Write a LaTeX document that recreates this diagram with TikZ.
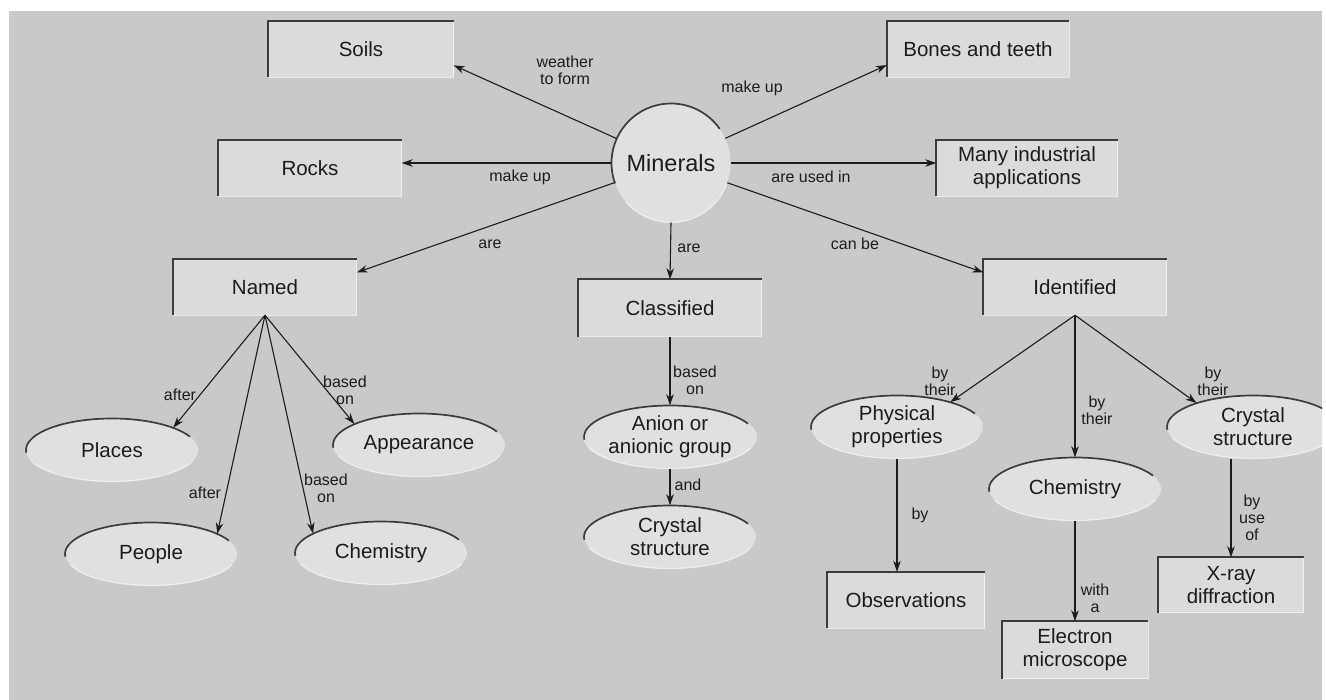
\documentclass[tikz,border=0pt]{standalone}
\usepackage{fontspec}
\setmainfont{Liberation Sans}
\usetikzlibrary{shapes.geometric,arrows.meta}
\definecolor{bg}{HTML}{C9C9C9}
\definecolor{boxfill}{HTML}{DBDBDB}
\definecolor{ellfill}{HTML}{E0E0E0}
\definecolor{ink}{HTML}{1C1C1C}
\definecolor{rim}{HTML}{3C3C3C}
\begin{document}
\begin{tikzpicture}[x=1pt,y=1pt,
  box/.style={rectangle, fill=boxfill, minimum width=183pt, minimum height=56pt, inner sep=2pt,
    font=\fontsize{20.5}{23}\selectfont, text=ink, align=center},
  ell/.style={ellipse, fill=ellfill, minimum width=172pt, minimum height=63pt, inner sep=0pt,
    font=\fontsize{20.5}{23}\selectfont, text=ink, align=center},
  lbl/.style={font=\fontsize{16}{17}\selectfont, text=ink, align=center, inner sep=1pt},
  arr/.style={-{Stealth[length=11pt,width=7.5pt]}, line width=1.1pt, draw=ink},
  rimline/.style={draw=rim, line width=1.7pt},
  hilite/.style={draw=white, opacity=.6, line width=1.2pt}]
\useasboundingbox (0,0) rectangle (1326,-700);
\fill[white] (0,0) rectangle (1326,-700);
\fill[bg] (9,-11) rectangle (1322,-700);
\begin{scope}
\clip (9,-11) rectangle (1322,-700);
% boxes
\node[box, minimum width=185pt] (soils) at (361,-49) {Soils};
\node[box, minimum width=182pt] (bones) at (978,-49) {Bones and teeth};
\node[box] (rocks) at (310,-168) {Rocks};
\node[box, minimum width=181pt] (indus) at (1027,-168) {Many industrial\\applications};
\node[circle, fill=ellfill, minimum size=119pt, inner sep=0pt, text=ink,
  font=\fontsize{23.5}{26}\selectfont] (minerals) at (671,-163) {Minerals};
\node[box] (named) at (265,-287) {Named};
\node[box, minimum height=57pt] (classif) at (670,-308) {Classified};
\node[box] (ident) at (1075,-287) {Identified};
\node[box, minimum width=157pt] (obs) at (906,-600) {Observations};
\node[box, minimum width=146pt, minimum height=57pt] (elec) at (1075,-650) {Electron\\microscope};
\node[box, minimum width=145pt, minimum height=55pt] (xray) at (1231,-585) {X-ray\\diffraction};
% ellipses
\node[ell] (places) at (112,-450) {Places};
\node[ell] (appear) at (419,-445) {Appearance};
\node[ell] (people) at (151,-554) {People};
\node[ell] (chemL) at (381,-553) {Chemistry};
\node[ell] (anion) at (670,-437) {Anion or\\anionic group};
\node[ell] (crystM) at (670,-537) {Crystal\\structure};
\node[ell] (phys) at (897,-427) {Physical\\properties};
\node[ell] (chemR) at (1075,-489) {Chemistry};
\node[ell] (crystR) at (1253,-427) {Crystal\\structure};
% rims
\foreach \n in {soils,bones,rocks,indus,named,classif,ident,obs,elec,xray}{
  \draw[hilite] (\n.south west) -- (\n.south east) -- (\n.north east);
  \draw[rimline] (\n.south west) -- (\n.north west) -- (\n.north east);
}
\foreach \n in {places,appear,people,chemL,anion,crystM,phys,chemR,crystR}{
  \draw[hilite] (\n.center) ++(200:86pt and 31.5pt) arc[start angle=200, end angle=340, x radius=86pt, y radius=31.5pt];
  \draw[rimline] (\n.center) ++(185:86pt and 31.5pt) arc[start angle=185, end angle=25, x radius=86pt, y radius=31.5pt];
}
\draw[hilite] (minerals.center) ++(220:59.5pt) arc[start angle=220, end angle=340, radius=59.5pt];
\draw[rimline] (minerals.center) ++(200:59.5pt) arc[start angle=200, end angle=35, radius=59.5pt];
% connectors
\draw[arr] (minerals) -- (soils.-10);
\draw[arr] (minerals) -- (bones.190);
\draw[arr] (minerals.west) -- (rocks.east |- minerals.west);
\draw[arr] (minerals.east) -- (indus.west |- minerals.east);
\draw[arr] (minerals) -- (named.9);
\draw[arr] (minerals.south) -- (classif.north);
\draw[arr] (minerals) -- (ident.171);
\draw[arr] (named.south) -- (places.20);
\draw[arr] (named.south) -- (people.17);
\draw[arr] (named.south) -- (chemL.164);
\draw[arr] (named.south) -- (appear.162);
\draw[arr] (classif.south) -- (anion.north);
\draw[arr] (anion.south) -- (crystM.north);
\draw[arr] (ident.south) -- (phys.25);
\draw[arr] (ident.south) -- (chemR.north);
\draw[arr] (ident.south) -- (crystR.157);
\draw[arr] (phys.south) -- (phys.south |- obs.north);
\draw[arr] (chemR.south) -- (elec.north);
\draw[arr] (xray.north |- crystR.south) -- (xray.north);
% labels
\node[lbl] (l1) at (565,-70) {weather\\to form};
\node[lbl] (l2) at (752,-88) {make up};
\node[lbl] (l3) at (520,-177) {make up};
\node[lbl] (l4) at (811,-177) {are used in};
\node[lbl] (l5) at (490,-244) {are};
\node[lbl] (l6) at (689,-248) {are};
\node[lbl] (l7) at (855,-244) {can be};
\node[lbl] (l8) at (180,-395) {after};
\node[lbl] (l9) at (345,-390) {based\\on};
\node[lbl] (l10) at (205,-493) {after};
\node[lbl] (l11) at (326,-488) {based\\on};
\node[lbl] (l12) at (695,-380) {based\\on};
\node[lbl] (l13) at (688,-485) {and};
\node[lbl] (l14) at (940,-381) {by\\their};
\node[lbl] (l15) at (1097,-410) {by\\their};
\node[lbl] (l16) at (1213,-381) {by\\their};
\node[lbl] (l17) at (920,-515) {by};
\node[lbl] (l18) at (1095,-598) {with\\a};
\node[lbl] (l19) at (1252,-518) {by\\use\\of};
\end{scope}
\end{tikzpicture}
\end{document}
